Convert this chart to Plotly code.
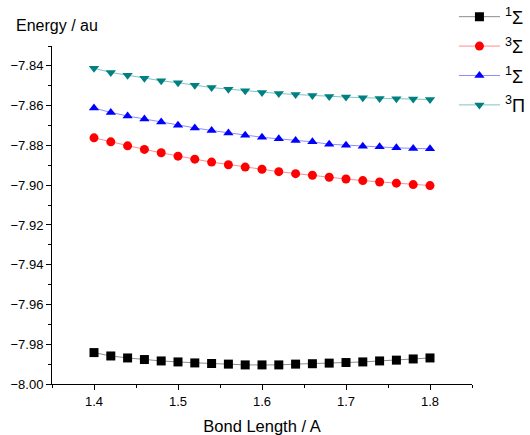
import plotly.graph_objects as go

bond_length = [1.40, 1.42, 1.44, 1.46, 1.48, 1.50, 1.52, 1.54, 1.56, 1.58, 1.60,
               1.62, 1.64, 1.66, 1.68, 1.70, 1.72, 1.74, 1.76, 1.78, 1.80]

sigma1_ground = [-7.9842, -7.9859, -7.9869, -7.9877, -7.9884, -7.9889, -7.9894, -7.9897,
                 -7.9900, -7.9904, -7.9904, -7.9904, -7.9900, -7.9898, -7.9895, -7.9892,
                 -7.9889, -7.9884, -7.9880, -7.9874, -7.9869]
sigma3 = [-7.8762, -7.8782, -7.8802, -7.8820, -7.8837, -7.8854, -7.8869, -7.8884,
          -7.8897, -7.8909, -7.8920, -7.8932, -7.8942, -7.8950, -7.8960, -7.8969,
          -7.8977, -7.8984, -7.8990, -7.8997, -7.9002]
sigma1_excited = [-7.8612, -7.8634, -7.8652, -7.8667, -7.8682, -7.8699, -7.8712, -7.8725,
                  -7.8737, -7.8749, -7.8759, -7.8767, -7.8775, -7.8782, -7.8794, -7.8799,
                  -7.8804, -7.8807, -7.8812, -7.8815, -7.8817]
pi3 = [-7.8412, -7.8433, -7.8447, -7.8462, -7.8475, -7.8485, -7.8497, -7.8509,
       -7.8517, -7.8525, -7.8534, -7.8539, -7.8544, -7.8549, -7.8554, -7.8557,
       -7.8560, -7.8564, -7.8565, -7.8567, -7.8569]

series = [
    ("<sup>1</sup>Σ\u00a0", sigma1_ground, "#000000", "#8c8c8c", "square"),
    ("<sup>3</sup>Σ\u00a0", sigma3, "#ff0000", "#ff8c8c", "circle"),
    ("<sup>1</sup>Σ\u00a0", sigma1_excited, "#0000ff", "#8c8cff", "triangle-up"),
    ("<sup>3</sup>Π\u00a0", pi3, "#008080", "#80c4c4", "triangle-down"),
]

fig = go.Figure()
for i, (name, vals, mcol, lcol, sym) in enumerate(series):
    fig.add_trace(go.Scatter(
        x=bond_length, y=vals, name=name, mode="lines+markers",
        legendgroup=f"g{i}",
        line=dict(color=lcol, width=1),
        marker=dict(color=mcol, size=9, symbol=sym),
    ))

axis_common = dict(
    showgrid=False, zeroline=False, showline=True, linecolor="#000000", linewidth=1,
    ticks="outside", ticklen=5, tickwidth=1, tickcolor="#000000",
    tickfont=dict(family="Liberation Sans, Arial", size=13, color="#000000"),
    mirror=False,
)

fig.update_layout(
    width=530, height=435,
    margin=dict(l=52, r=58, t=46, b=51, autoexpand=False),
    plot_bgcolor="white", paper_bgcolor="white",
    font=dict(family="Liberation Sans, Arial", color="#000000"),
    xaxis=dict(range=[1.35, 1.85], tick0=1.4, dtick=0.1, tickformat=".1f",
               minor=dict(ticks="outside", ticklen=3, tickcolor="#000000", dtick=0.05, tick0=1.35),
               title=dict(text="Bond Length / A", font=dict(size=16.5), standoff=14),
               **axis_common),
    yaxis=dict(range=[-8.0, -7.83], tick0=-8.0, dtick=0.02, tickformat=".2f",
               minor=dict(ticks="outside", ticklen=3, tickcolor="#000000", dtick=0.01, tick0=-8.0),
               **axis_common),
    legend=dict(x=0.957, xanchor="left", y=1.1406, yanchor="top",
                font=dict(size=18, family="Liberation Sans, Arial"),
                bgcolor="rgba(0,0,0,0)", itemwidth=41, tracegroupgap=3),
    showlegend=True,
    annotations=[dict(text="Energy / au", xref="paper", yref="paper", x=-0.0905, y=1.0 + 10/338,
                      xanchor="left", yanchor="bottom", showarrow=False,
                      font=dict(size=16))],
)

fig.write_html(
    "out.html",
    config={"displayModeBar": False},
    post_script="document.body.style.margin='0';document.body.style.overflow='hidden';",
)
